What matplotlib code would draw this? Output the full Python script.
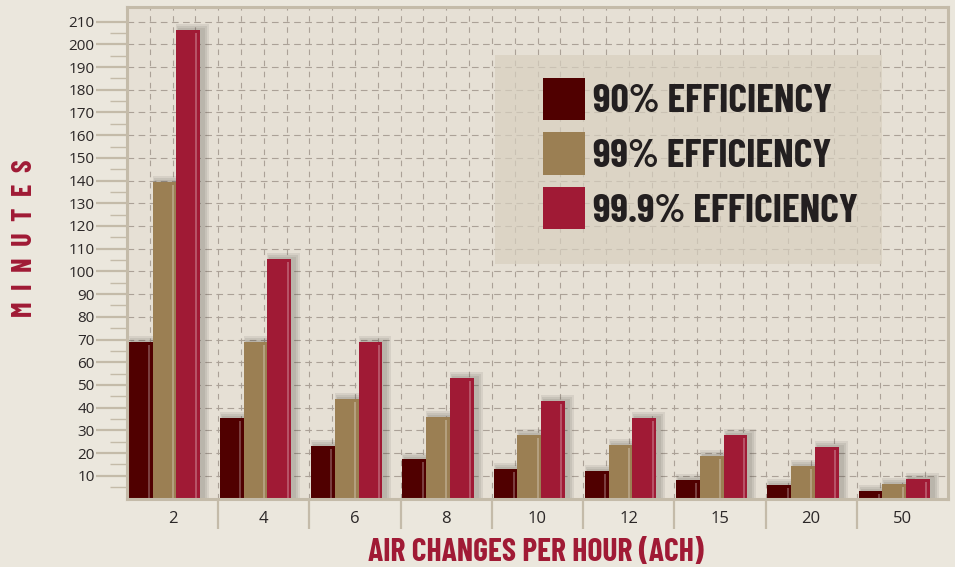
#minutes needed to remove airborne contaminants vs air changes per hour
import numpy as np
import matplotlib
matplotlib.use("Agg")
from matplotlib import pyplot as plt
from matplotlib.patches import Rectangle

#data
ach=["2","4","6","8","10","12","15","20","50"]
eff90=[69,35.5,23,17.5,13,12,8,6,3.5]
eff99=[139.5,69,44,36,28,23.5,18.5,14.5,6.5]
eff999=[206.5,105.5,69,53,43,35.5,28,22.5,8.5]
series_labels=["90% EFFICIENCY","99% EFFICIENCY","99.9% EFFICIENCY"]
yticks=list(range(10,220,10))

colors=["#500000","#9b7f53","#a01a35"]
narrow=["Barlow Condensed","DejaVu Sans"]
tan="#c4bba9"

fig=plt.figure(figsize=(9.55,5.67),dpi=100)
fig.patch.set_facecolor("#ebe7dd")
ax=fig.add_axes([127/955,1-498.5/567,821/955,491.2/567])
ax.set_facecolor("#e6e0d5")
ax.set_xlim(0,9)
ax.set_ylim(0,216.3)

pxx=9/821 #one pixel in data units
pxy=216.3/491.2
x=np.arange(len(ach))
w=0.26
offsets=[0.02,0.28,0.54]
bars=[]
for vals,off,c,lab in zip([eff90,eff99,eff999],offsets,colors,series_labels):
    vals=np.array(vals)
    #soft drop shadow, mostly to the right
    for d in (6,4,2):
        ax.bar(x+off-d*pxx/2+3*pxx,vals+d*pxy,width=w+1.5*d*pxx,align="edge",
               color="#3a3530",alpha=0.09,lw=0,zorder=1.5)
    b=ax.bar(x+off,vals,width=w,align="edge",color=c,lw=0,zorder=2,label=lab)
    bars.append(b)
    #glossy highlight stripe
    ax.vlines(x+off+w-3.5*pxx,0,vals-3*pxy,colors="white",alpha=0.3,lw=1.2,zorder=2.5)

#grid
ax.set_axisbelow(True)
ax.grid(axis="y",which="major",color="#aba197",lw=0.8,ls=(0,(6,4)))
ax.vlines(np.arange(0.25,9,0.25),0,1,transform=ax.get_xaxis_transform(),
          colors="#aba197",lw=0.8,linestyles=(0,(5,5)),zorder=0.5)

for s in ax.spines.values():
    s.set_color(tan)
    s.set_linewidth(2.2)

#y axis
ax.set_yticks(yticks)
ax.set_yticks(np.arange(5,210,10),minor=True)
ax.tick_params(axis="y",which="major",length=22.3,width=1.6,color=tan,pad=1,
               labelsize=11,labelcolor="#2b2727")
ax.tick_params(axis="y",which="minor",length=12,width=1,color=tan)
for t in ax.get_yticklabels():
    t.set_family("Open Sans")

#x axis: separators as major ticks, labels at group centres
ax.set_xticks(np.arange(1,9))
ax.set_xticklabels([])
ax.set_xticks(x+0.5,minor=True)
ax.set_xticklabels(ach,minor=True,family="Open Sans",fontsize=12,color="#2b2727")
ax.tick_params(axis="x",which="major",length=21.6,width=1.6,color=tan)
ax.tick_params(axis="x",which="minor",length=0,pad=9)

#legend on a translucent panel
ax.add_patch(Rectangle((0.448,0.477),0.4716,0.426,transform=ax.transAxes,
                       fc="#d8d0bf",alpha=0.7,ec="none",zorder=3))
leg=ax.legend(handles=bars,loc="upper left",bbox_to_anchor=(0.5067,0.857),
              frameon=False,borderpad=0,borderaxespad=0,
              prop=dict(family=narrow,weight="bold",size=29),
              handlelength=1.04,handleheight=1.25,handletextpad=0.2,labelspacing=0.3)
leg.set_zorder(4)
for t in leg.get_texts():
    t.set_color("#231f20")

fig.text(25/955,1-238/567,"M  I  N  U  T  E  S",rotation=90,ha="center",va="center",
         color="#a01a35",fontsize=20.5,weight="bold",family=narrow)
fig.text(536/955,1-552/567,"AIR CHANGES PER HOUR (ACH)",ha="center",va="center",
         color="#a01a35",fontsize=22.8,weight="bold",family=narrow)

fig.savefig("out.png",dpi=100,facecolor=fig.get_facecolor())
